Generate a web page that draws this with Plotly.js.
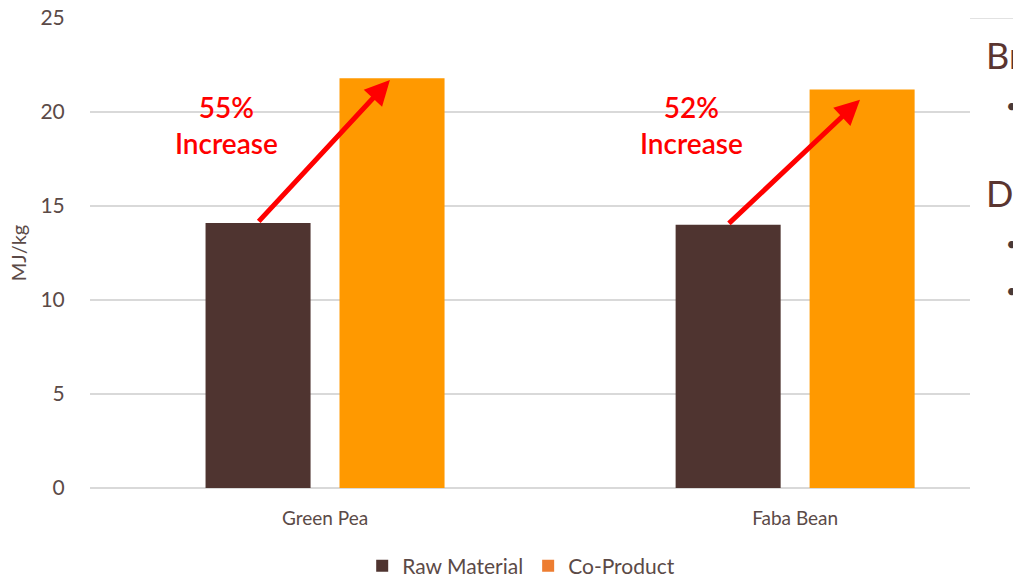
<!DOCTYPE html>
<html>
<head>
<meta charset="utf-8">
<script src="https://cdn.plot.ly/plotly-3.0.1.min.js"></script>
<style>html,body{margin:0;padding:0;background:#fff;}#chart{width:1013px;height:580px;}</style>
</head>
<body>
<div id="chart"></div>
<script>
// ---- data ----
var categories = ["Green Pea", "Faba Bean"];
var rawMaterial = [14.1, 14.0];
var coProduct = [21.8, 21.2];
var increaseLabels = ["55%<br>Increase", "52%<br>Increase"];
var seriesNames = ["Raw Material", "Co-Product"];
var yTicks = [0, 5, 10, 15, 20, 25];

// ---- styles ----
var RAW_COLOR = "#4f3430";
var CO_COLOR = "#ff9900";
var CO_LEGEND_COLOR = "#ed7d31";
var TEXT_COLOR = "#5b4a47";
var FONT = "Lato, 'Open Sans', sans-serif";

var idx = categories.map(function(_, i){ return i; });

var traces = [
  {type: "bar", x: idx, y: rawMaterial, name: seriesNames[0], marker: {color: RAW_COLOR}, showlegend: false, hoverinfo: "y"},
  {type: "bar", x: idx, y: coProduct, name: seriesNames[1], marker: {color: CO_COLOR}, showlegend: false, hoverinfo: "y"},
  {type: "scatter", mode: "markers", x: [null], y: [null], name: seriesNames[0], marker: {symbol: "square", size: 14, color: RAW_COLOR}},
  {type: "scatter", mode: "markers", x: [null], y: [null], name: seriesNames[1], marker: {symbol: "square", size: 14, color: CO_LEGEND_COLOR}}
];

var annotations = [];
var tailDx = -0.144, headDx = 0.138;
var headDy = [-0.1, -0.55];
var labelDx = [-0.21, -0.22];
idx.forEach(function(i){
  annotations.push({
    x: i + headDx, y: coProduct[i] + headDy[i], ax: i + tailDx, ay: rawMaterial[i],
    xref: "x", yref: "y", axref: "x", ayref: "y",
    showarrow: true, arrowhead: 2, arrowsize: 1.0, arrowwidth: 5, arrowcolor: "#ff0000", text: "", standoff: 0, startstandoff: 0
  });
  annotations.push({
    x: i + labelDx[i], y: 19.3, xref: "x", yref: "y", showarrow: false,
    text: increaseLabels[i], font: {family: FONT, size: 28, color: "#ff0000", weight: 600},
    align: "center"
  });
});
// slide text partially visible at right edge
annotations.push({xref: "paper", yref: "paper", x: 1.0159, y: 0.972, xanchor: "left", yanchor: "top", showarrow: false, text: "Br", font: {family: FONT, size: 36, color: "#5a3530"}});
annotations.push({xref: "paper", yref: "paper", x: 1.0159, y: 0.678, xanchor: "left", yanchor: "top", showarrow: false, text: "D", font: {family: FONT, size: 36, color: "#5a3530"}});
[0.815, 0.521, 0.421].forEach(function(yy){
  annotations.push({xref: "paper", yref: "paper", x: 1.039, y: yy, xanchor: "left", yanchor: "middle", showarrow: false, text: "•", font: {family: FONT, size: 20, color: "#4a3a38"}});
});

var layout = {
  width: 1013, height: 580,
  margin: {l: 90, r: 43, t: 18, b: 92, pad: 0},
  paper_bgcolor: "#ffffff", plot_bgcolor: "#ffffff",
  font: {family: FONT, color: TEXT_COLOR},
  barmode: "group", bargap: 0.43, bargroupgap: 0.216,
  xaxis: {
    range: [-0.5, 1.372], tickvals: idx, ticktext: categories,
    showgrid: false, zeroline: false, showline: false,
    ticks: "outside", ticklen: 13, tickcolor: "rgba(0,0,0,0)",
    tickfont: {size: 19, color: TEXT_COLOR}, fixedrange: true, automargin: false
  },
  yaxis: {
    range: [0, 25], tickvals: yTicks, showgrid: true, gridcolor: "#d9d9d9", gridwidth: 1.3,
    zeroline: true, zerolinecolor: "#d9d9d9", zerolinewidth: 1.5, showline: false,
    ticks: "outside", ticklen: 20, tickcolor: "rgba(0,0,0,0)",
    tickfont: {size: 21, color: TEXT_COLOR}, automargin: false,
    title: {text: "MJ/kg", font: {size: 20, color: TEXT_COLOR}, standoff: 8}, fixedrange: true
  },
  legend: {orientation: "h", xref: "paper", x: 0.49, xanchor: "center", yref: "container", y: 0.024, yanchor: "middle",
    font: {size: 21, color: TEXT_COLOR}, itemsizing: "constant", tracegroupgap: 0},
  shapes: [
    {type: "line", xref: "paper", yref: "y", x0: 1, x1: 1.05, y0: 25, y1: 25, line: {color: "#d9d9d9", width: 1.3}}
  ],
  annotations: annotations,
  showlegend: true
};

Plotly.newPlot("chart", traces, layout, {displayModeBar: false, staticPlot: true});
</script>
</body>
</html>
